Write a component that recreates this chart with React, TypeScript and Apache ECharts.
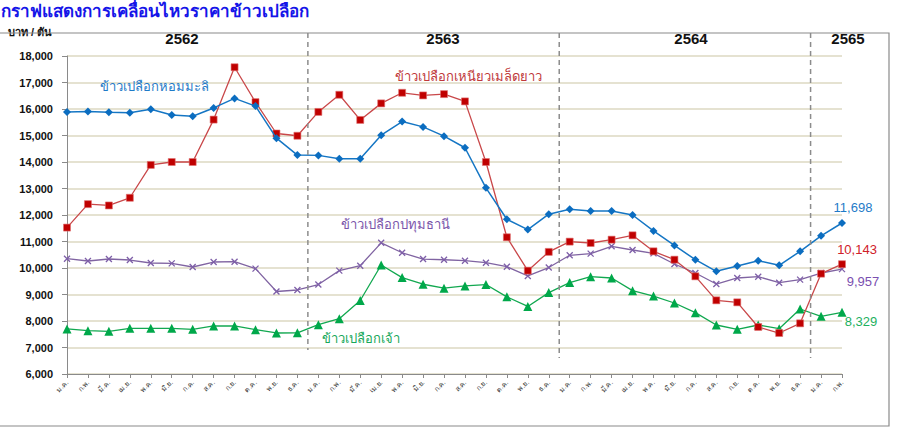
import React, { useEffect, useRef } from "react";
import * as echarts from "echarts";

const months = ["ม.ค.", "ก.พ.", "มี.ค.", "เม.ย.", "พ.ค.", "มิ.ย.", "ก.ค.", "ส.ค.", "ก.ย.", "ต.ค.", "พ.ย.", "ธ.ค."];
const categories: string[] = [...months, ...months, ...months, "ม.ค.", "ก.พ."];
const years = ["2562", "2563", "2564", "2565"];

const homMali = [15890, 15910, 15880, 15860, 15990, 15775, 15725, 16040, 16400, 16110, 14900, 14260,
  14250, 14125, 14125, 15010, 15525, 15325, 14975, 14537, 13025, 11840, 11450, 12030,
  12220, 12150, 12150, 12000, 11400, 10850, 10314, 9874, 10075, 10277, 10100, 10629, 11214, 11698];
const niaw = [11525, 12410, 12360, 12650, 13890, 14000, 14000, 15600, 17575, 16260, 15075, 14990,
  15890, 16537, 15587, 16212, 16612, 16512, 16562, 16287, 14000, 11160, 9900, 10608,
  10995, 10943, 11069, 11233, 10629, 10314, 9686, 8780, 8704, 7774, 7547, 7912, 9786, 10143];
const pathum = [10351, 10264, 10339, 10301, 10188, 10176, 10038, 10226, 10238, 9975, 9113, 9170,
  9375, 9900, 10087, 10950, 10575, 10337, 10312, 10275, 10200, 10050, 9700, 10018,
  10480, 10541, 10818, 10679, 10553, 10151, 9811, 9396, 9623, 9673, 9446, 9560, 9811, 9957];
const jao = [7699, 7636, 7611, 7724, 7724, 7724, 7686, 7812, 7812, 7674, 7548, 7555,
  7862, 8087, 8775, 10112, 9637, 9387, 9237, 9325, 9375, 8912, 8550, 9072,
  9450, 9673, 9623, 9145, 8943, 8679, 8314, 7849, 7686, 7849, 7711, 8453, 8176, 8329];

const yTicks = { min: 6000, max: 18000, interval: 1000 };

const fmt = (v: number) => v.toLocaleString("en-US");

function lastLabel(values: number[], color: string, offset: [number, number]) {
  return values.map((v, i) =>
    i === values.length - 1
      ? {
          value: v,
          label: {
            show: true,
            position: "inside",
            offset,
            formatter: () => fmt(v),
            color,
            fontSize: 13,
            fontFamily: "Liberation Sans, Arial, sans-serif",
          },
        }
      : v
  );
}

export default function App() {
  const ref = useRef<HTMLDivElement>(null);
  useEffect(() => {
    if (!ref.current) return;
    const chart = echarts.init(ref.current, null, { renderer: "svg" });
    const font = "Liberation Sans, Arial, sans-serif";
    chart.setOption({
      animation: false,
      backgroundColor: "#ffffff",
      grid: { left: 67, right: 57, top: 56, bottom: 53, containLabel: false },
      xAxis: {
        type: "category",
        data: categories,
        boundaryGap: false,
        axisLine: { lineStyle: { color: "#8a8a8a", width: 1 } },
        axisTick: { show: true, length: 4, lineStyle: { color: "#8a8a8a" } },
        axisLabel: { rotate: 45, fontSize: 7, color: "#333", margin: 7, interval: 0, fontFamily: font },
        splitLine: { show: false },
      },
      yAxis: {
        type: "value",
        min: yTicks.min,
        max: yTicks.max,
        interval: yTicks.interval,
        axisLine: { show: true, lineStyle: { color: "#8a8a8a", width: 1 } },
        axisTick: { show: true, length: 5, lineStyle: { color: "#8a8a8a" } },
        axisLabel: {
          formatter: (v: number) => fmt(v),
          fontSize: 11,
          fontWeight: "bold",
          color: "#111",
          margin: 14,
          fontFamily: font,
        },
        splitLine: { show: true, lineStyle: { color: "#DDD8C2", width: 1.5 } },
      },
      series: [
        {
          name: "ข้าวเปลือกหอมมะลิ",
          type: "line",
          data: lastLabel(homMali, "#1F7BC8", [11, -16]),
          symbol: "diamond",
          symbolSize: 8,
          lineStyle: { color: "#1576C4", width: 1.5 },
          itemStyle: { color: "#0B6DC0" },
          z: 4,
        },
        {
          name: "ข้าวเปลือกเหนียวเมล็ดยาว",
          type: "line",
          data: lastLabel(niaw, "#D0202A", [15, -15]),
          symbol: "rect",
          symbolSize: 7,
          lineStyle: { color: "#C9484A", width: 1.3 },
          itemStyle: { color: "#C00000", borderColor: "#E07070", borderWidth: 0.6 },
          z: 3,
        },
        {
          name: "ข้าวเปลือกปทุมธานี",
          type: "line",
          data: lastLabel(pathum, "#7A4FB0", [21, 12]),
          symbol: "path://M0,0 L10,10 M10,0 L0,10",
          symbolSize: 6,
          lineStyle: { color: "#8064A2", width: 1.3 },
          itemStyle: { color: "none", borderColor: "#7E5FA8", borderWidth: 1.3 },
          z: 2,
        },
        {
          name: "ข้าวเปลือกเจ้า",
          type: "line",
          data: lastLabel(jao, "#1DB060", [19, 9]),
          symbol: "triangle",
          symbolSize: 9,
          lineStyle: { color: "#12A850", width: 1.3 },
          itemStyle: { color: "#00A84A" },
          z: 2,
        },
      ],
    });

    const px = (i: number) => {
      const p = chart.convertToPixel({ xAxisIndex: 0 }, i) as unknown as number;
      return typeof p === "number" && !isNaN(p) ? p : 67 + i * 20.93;
    };
    const mid = (i: number) => (px(i) + px(i + 1)) / 2;
    const seps = [11, 23, 35];
    const yearX = [182, 443, 691, 848];

    const graphics: any[] = [
      {
        type: "rect",
        shape: { x: -5, y: 33, width: 894, height: 393 },
        style: { fill: "none", stroke: "#8a8a8a", lineWidth: 1.2 },
        z: 1,
      },
      {
        type: "text",
        x: 1,
        y: 3,
        style: {
          text: "กราฟแสดงการเคลื่อนไหวราคาข้าวเปลือก",
          fill: "#1515E8",
          font: "bold 17px 'Liberation Sans', 'Noto Sans', sans-serif",
        },
        z: 10,
      },
      {
        type: "text",
        x: 30,
        y: 32,
        style: {
          text: "บาท / ตัน",
          fill: "#111",
          font: "bold 11px 'Liberation Sans', 'Noto Sans', sans-serif",
          align: "center",
          verticalAlign: "middle",
        },
        z: 0,
      },
      ...seps.map((i, k) => ({
        type: "line",
        shape: { x1: mid(i), y1: 33, x2: mid(i), y2: k === 0 ? 350 : 358 },
        style: { stroke: "#8c8c8c", lineWidth: 1.5, lineDash: [5, 4] },
        z: 5,
      })),
      ...years.map((y, k) => ({
        type: "text",
        x: yearX[k],
        y: 38,
        style: {
          text: y,
          fill: "#111",
          font: "bold 15px 'Liberation Sans', Arial, sans-serif",
          align: "center",
          verticalAlign: "middle",
        },
        z: 10,
      })),
      {
        type: "text",
        x: 154,
        y: 86,
        style: { text: "ข้าวเปลือกหอมมะลิ", fill: "#1F7BC8", font: "13px 'Liberation Sans', sans-serif", align: "center", verticalAlign: "middle" },
        z: 10,
      },
      {
        type: "text",
        x: 468,
        y: 76,
        style: { text: "ข้าวเปลือกเหนียวเมล็ดยาว", fill: "#C0393B", font: "13px 'Liberation Sans', sans-serif", align: "center", verticalAlign: "middle" },
        z: 10,
      },
      {
        type: "text",
        x: 395,
        y: 224,
        style: { text: "ข้าวเปลือกปทุมธานี", fill: "#7A55AA", font: "13px 'Liberation Sans', sans-serif", align: "center", verticalAlign: "middle" },
        z: 10,
      },
      {
        type: "text",
        x: 361,
        y: 338,
        style: { text: "ข้าวเปลือกเจ้า", fill: "#17A85A", font: "13px 'Liberation Sans', sans-serif", align: "center", verticalAlign: "middle" },
        z: 10,
      },
    ];
    chart.setOption({ graphic: graphics });

    return () => chart.dispose();
  }, []);
  return (
    <div
      ref={ref}
      style={{ position: "fixed", left: 0, top: 0, width: 899, height: 427, background: "#fff" }}
    />
  );
}
